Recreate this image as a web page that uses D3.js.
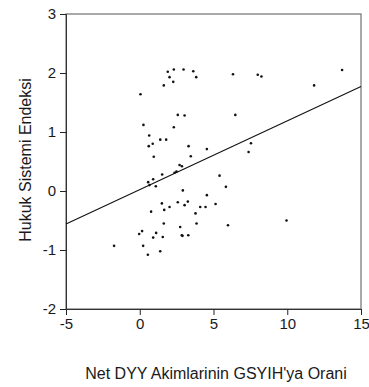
<!DOCTYPE html>
<html>
<head>
<meta charset="utf-8">
<script src="https://cdn.jsdelivr.net/npm/d3@7"></script>
<style>
  body { margin: 0; background: #fff; }
  text { font-family: "Liberation Sans", Arial, sans-serif; }
</style>
</head>
<body>
<div id="chart"></div>
<script>
// Net FDI inflows / GDP (x) vs legal system index (y)
const xValues = [
    0.05, 1.63, 1.90, 2.02, 2.27, 2.31, 2.97, 3.63, 3.83, 6.32, 8.00, 8.25, 11.82, 13.72,
    0.25, 2.58, 3.04, 6.48, 2.31, 0.64, 1.39, 1.79, 0.61, 0.88, 3.31, 4.55, 7.54, 7.38,
    0.95, 3.46, 2.70, 2.86, 2.36, 2.49, 1.52, 0.91, 0.57, 0.66, 1.09, 5.41, 5.84, 2.92,
    4.55, 1.50, 2.58, 3.26, 3.04, 2.02, 4.10, 4.46, 5.14, 1.66, 0.77, 3.78,
    1.63, 2.74, 3.85, 5.98, 9.95, -0.04, 0.16, 1.11, 0.91, 1.56, 2.85, 2.90, 3.29,
    -1.74, 0.23, 1.39, 0.55
];
const yValues = [
    1.64, 1.79, 2.02, 1.93, 1.85, 2.06, 2.06, 2.03, 1.93, 1.98, 1.97, 1.94, 1.79, 2.05,
    1.12, 1.29, 1.28, 1.29, 1.08, 0.94, 0.87, 0.87, 0.76, 0.80, 0.76, 0.71, 0.81, 0.66,
    0.58, 0.59, 0.44, 0.42, 0.31, 0.33, 0.28, 0.20, 0.15, 0.10, 0.08, 0.26, 0.07, 0.01,
    -0.07, -0.21, -0.19, -0.18, -0.24, -0.27, -0.27, -0.27, -0.22, -0.32, -0.35, -0.38,
    -0.55, -0.61, -0.55, -0.58, -0.50, -0.73, -0.68, -0.71, -0.79, -0.78, -0.75, -0.76, -0.75,
    -0.93, -0.93, -1.02, -1.08
];
// fitted line endpoints
const fitX = [-5, 15];
const fitY = [-0.56, 1.77];

const xTicks = [-5, 0, 5, 10, 15];
const yTicks = [-2, -1, 0, 1, 2, 3];
const xTitle = "Net DYY Akimlarinin GSYIH'ya Orani";
const yTitle = "Hukuk Sistemi Endeksi";

const width = 369, height = 387;
const margin = { top: 14, right: 8, bottom: 78, left: 66 };
const w = width - margin.left - margin.right;
const h = height - margin.top - margin.bottom;

const svg = d3.select('#chart').append('svg')
    .attr('width', width)
    .attr('height', height);

const g = svg.append('g')
    .attr('transform', `translate(${margin.left},${margin.top})`);

const x = d3.scaleLinear().domain([-5, 15]).range([0, w]);
const y = d3.scaleLinear().domain([-2, 3]).range([h, 0]);

// frame
g.append('rect')
    .attr('x', 0).attr('y', 0)
    .attr('width', w).attr('height', h)
    .attr('fill', 'none')
    .attr('stroke', '#707070')
    .attr('stroke-width', 1.2);

// plain hyphen for negatives, like the original
const fmt = d => String(d);

const xAxis = g.append('g')
    .attr('transform', `translate(0,${h})`)
    .call(d3.axisBottom(x).tickValues(xTicks).tickSize(6).tickPadding(3).tickFormat(fmt));
const yAxis = g.append('g')
    .call(d3.axisLeft(y).tickValues(yTicks).tickSize(6).tickPadding(4).tickFormat(fmt));

[xAxis, yAxis].forEach(ax => {
    ax.select('.domain').attr('stroke', '#333');
    ax.selectAll('.tick line').attr('stroke', '#222');
    ax.selectAll('.tick text')
        .attr('font-size', '15px')
        .attr('fill', '#1a1a1a')
        .attr('font-family', '"Liberation Sans", Arial, sans-serif');
});

const line = d3.line()
    .x(d => x(d[0]))
    .y(d => y(d[1]));

g.append('path')
    .datum(fitX.map((v, i) => [v, fitY[i]]))
    .attr('fill', 'none')
    .attr('stroke', '#111')
    .attr('stroke-width', 1.1)
    .attr('d', line);

g.selectAll('circle.pt')
    .data(xValues.map((v, i) => [v, yValues[i]]))
    .enter().append('circle')
    .attr('class', 'pt')
    .attr('cx', d => x(d[0]))
    .attr('cy', d => y(d[1]))
    .attr('r', 1.3)
    .attr('fill', '#111');

svg.append('text')
    .attr('x', 216)
    .attr('y', 379)
    .attr('text-anchor', 'middle')
    .attr('font-size', '16px')
    .attr('fill', '#1a1a1a')
    .text(xTitle);

svg.append('text')
    .attr('transform', `translate(31,160) rotate(-90)`)
    .attr('text-anchor', 'middle')
    .attr('font-size', '16px')
    .attr('fill', '#1a1a1a')
    .text(yTitle);
</script>
</body>
</html>
